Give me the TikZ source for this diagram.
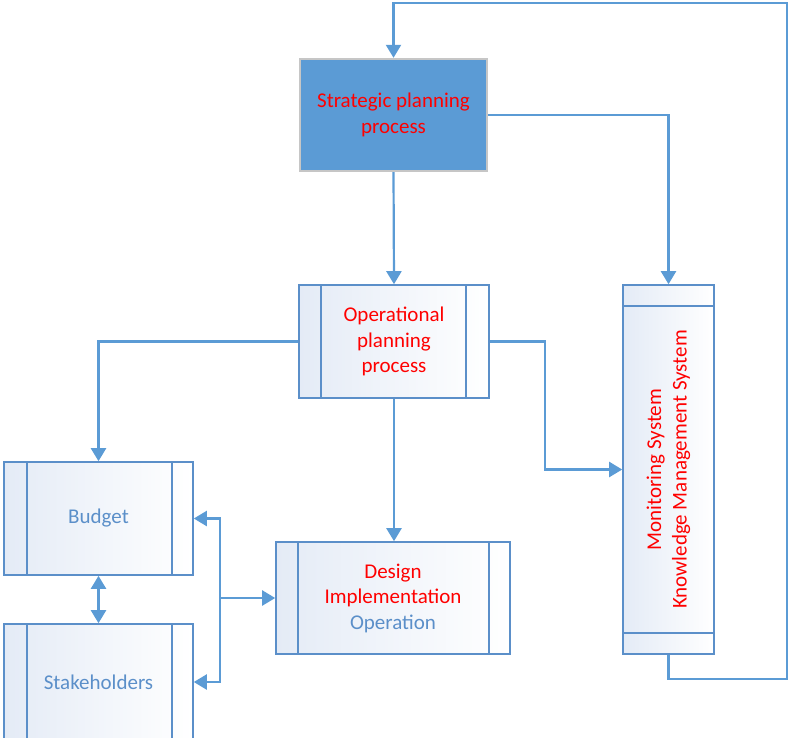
\documentclass[tikz,border=0pt]{standalone}
\usepackage{fontspec}
\setmainfont{Carlito}
\usetikzlibrary{arrows.meta}
\definecolor{lineblue}{HTML}{5B9BD5}
\definecolor{boxblue}{HTML}{5B8FC9}
\definecolor{txtblue}{HTML}{5B8FC9}
\definecolor{fillA}{HTML}{E4EBF6}
\definecolor{stratfill}{HTML}{5B9BD5}
\definecolor{stratborder}{HTML}{C6C6C6}
\definecolor{txtred}{HTML}{FF0000}
\tikzset{
  txt/.style={font=\fontsize{21}{25.5}\selectfont, align=center},
  procbox/.style={draw=boxblue, line width=1.6pt, left color=fillA, right color=white,
    inner sep=0pt, txt},
  stratbox/.style={draw=stratborder, fill=stratfill, line width=2.4pt, inner sep=0pt, txt},
  divline/.style={draw=boxblue, line width=1.6pt},
  arr/.style={draw=lineblue, line width=2.2pt, -{Triangle[length=13pt,width=15pt]}},
  darr/.style={draw=lineblue, line width=2.2pt, {Triangle[length=13pt,width=15pt]}-{Triangle[length=13pt,width=15pt]}},
  line/.style={draw=lineblue, line width=2.2pt},
}
\begin{document}
\begin{tikzpicture}[x=1pt, y=-1pt]
\useasboundingbox (0,0) rectangle (791,737);

% Strategic planning
\node[stratbox, minimum width=187pt, minimum height=112pt, text=txtred] (strat) at (393.5,115)
  {Strategic planning\\process};

% Operational planning
\node[procbox, minimum width=190pt, minimum height=113pt, text=txtred] (op) at (394,341.5)
  {Operational\\planning\\process};
\draw[divline] ([xshift=23pt]op.north west) -- ([xshift=23pt]op.south west);
\draw[divline] ([xshift=-24pt]op.north east) -- ([xshift=-24pt]op.south east);

% Budget
\node[procbox, minimum width=189pt, minimum height=113pt, text=txtblue] (budget) at (98.5,518.5) {Budget};
\draw[divline] ([xshift=24pt]budget.north west) -- ([xshift=24pt]budget.south west);
\draw[divline] ([xshift=-22pt]budget.north east) -- ([xshift=-22pt]budget.south east);

% Stakeholders
\node[procbox, minimum width=189pt, minimum height=116pt, text=txtblue] (stake) at (98.5,682) {Stakeholders};
\draw[divline] ([xshift=24pt]stake.north west) -- ([xshift=24pt]stake.south west);
\draw[divline] ([xshift=-22pt]stake.north east) -- ([xshift=-22pt]stake.south east);

% Design
\node[procbox, minimum width=234pt, minimum height=112pt] (design) at (393,598)
  {\textcolor{txtred}{Design}\\\textcolor{txtred}{Implementation}\\\textcolor{txtblue}{Operation}};
\draw[divline] ([xshift=23pt]design.north west) -- ([xshift=23pt]design.south west);
\draw[divline] ([xshift=-22pt]design.north east) -- ([xshift=-22pt]design.south east);

% Monitoring
\node[procbox, minimum width=91pt, minimum height=369pt] (mon) at (668.5,469.5) {};
\draw[divline] ([yshift=-22pt]mon.north west) -- ([yshift=-22pt]mon.north east);
\draw[divline] ([yshift=22pt]mon.south west) -- ([yshift=22pt]mon.south east);
\node[txt, text=txtred, rotate=90] (monlabel) at (mon.center)
  {Monitoring System\\Knowledge Management System};

% Connectors
\draw[arr] (strat.south) -- (op.north);
\draw[arr] (strat.east) -| (mon.north);
\draw[arr] (op.west) -| (budget.north);
\coordinate (opr) at (545,341.5);
\draw[arr] (op.east) -- (opr) |- (mon.west);
\draw[arr] (op.south) -- (op.south |- design.north);
\draw[darr] (budget.south) -- (stake.north);
\coordinate (br) at (220,598);
\draw[arr] (br) -- (design.west);
\draw[arr] (br) |- (budget.east);
\draw[arr] (br) |- (stake.east);
\coordinate (fbA) at (668.5,679);
\coordinate (fbB) at (787,3);
\draw[arr] (mon.south) -- (fbA) -| (fbB) -| (strat.north);
\end{tikzpicture}
\end{document}
